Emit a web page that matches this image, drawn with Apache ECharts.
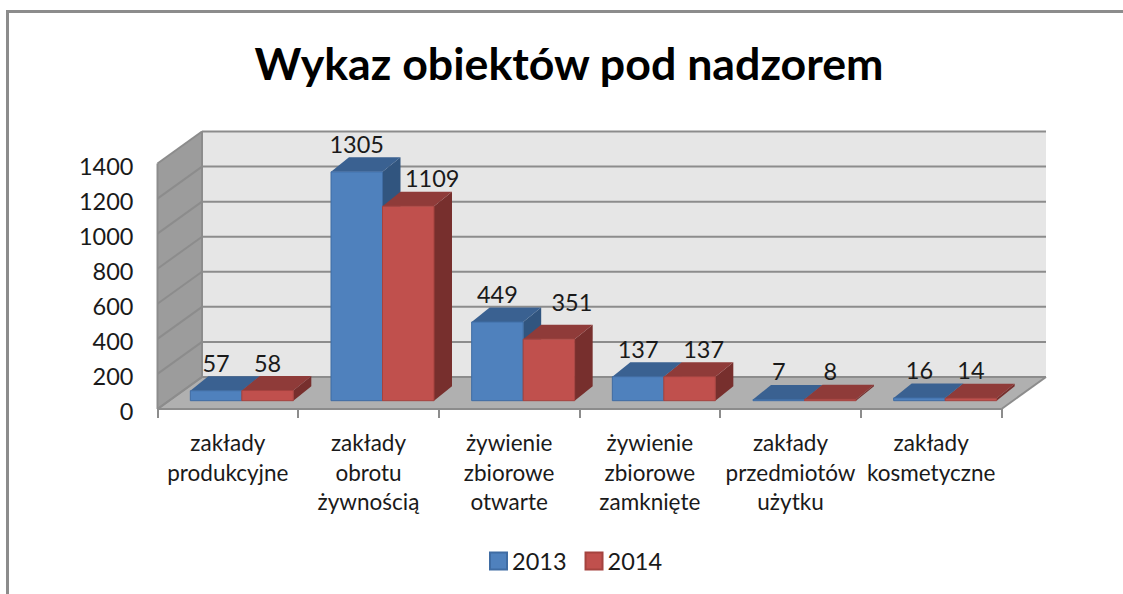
<!DOCTYPE html>
<html><head><meta charset="utf-8">
<style>html,body{margin:0;padding:0;background:#fff}#c{width:1123px;height:594px}</style>
<script src="https://cdn.jsdelivr.net/npm/echarts@6/dist/echarts.min.js"></script>
</head><body><div id="c"></div>
<script>
const categories = ['zakłady\nprodukcyjne','zakłady\nobrotu\nżywnością','żywienie\nzbiorowe\notwarte','żywienie\nzbiorowe\nzamknięte','zakłady\nprzedmiotów\nużytku','zakłady\nkosmetyczne'];
const values2013 = [57,1305,449,137,7,16];
const values2014 = [58,1109,351,137,8,14];
const tickValues = [0,200,400,600,800,1000,1200,1400];
const FONT = 'Lato';
const WALL = {dx:44.5, dy:-32};
const BAR = {halfGapDx:14, baseDy:-8.3, width:51.5, dx:18, dy:-14.5};
const LABEL_LIFT = 28;
const nudges = {'2013':{}, '2014':{1:[24,0],2:[23,-9],3:[14,0]}};
const styles = {
 '2013':{front:'#4F81BD',top:'#3A6191',side:'#31557F',edge:'#3F6CA3',sign:-1},
 '2014':{front:'#C0504D',top:'#8F3B39',side:'#772F2D',edge:'#A5433F',sign:0}
};
const GRID = '#8C8C8C';
function poly(points, fill, stroke){
  return {type:'polygon',shape:{points},style:{fill,stroke:stroke||null,lineWidth:stroke?1:0}};
}
function line(x1,y1,x2,y2,w){
  return {type:'line',shape:{x1,y1,x2,y2},style:{stroke:GRID,lineWidth:w||2,fill:null}};
}
function renderWalls(params, api){
  const cs = params.coordSys, p = api.coord([0, api.value(0)]);
  const L = cs.x, R = cs.x+cs.width, y = p[1], dx=WALL.dx, dy=WALL.dy;
  const kids = [];
  if(params.dataIndex===0){
    const T = cs.y, B = cs.y+cs.height;
    kids.push(poly([[L+dx,T+dy],[R+dx,T+dy],[R+dx,B+dy],[L+dx,B+dy]],'#E6E6E6'));
    kids.push(poly([[L,T],[L+dx,T+dy],[L+dx,B+dy],[L,B]],'#9C9C9C'));
    kids.push(poly([[L,B],[L+dx,B+dy],[R+dx,B+dy],[R,B]],'#B0B0B0'));
    kids.push(line(L,T,L,B));
    kids.push(line(L+dx,T+dy,L+dx,B+dy));
    kids.push(line(L,B,R,B));
    kids.push(line(R,B,R+dx,B+dy));
    kids.push(line(L,B,L+dx,B+dy));
  }
  kids.push(line(L,y,L+dx,y+dy));
  kids.push(line(L+dx,y+dy,R+dx,y+dy));
  return {type:'group',children:kids};
}
function barRenderer(name){
  const s = styles[name];
  return function(params, api){
    const i = api.value(0), v = api.value(1);
    const c0 = api.coord([i,0]), c1 = api.coord([i,v]);
    const x0 = c0[0]+BAR.halfGapDx+s.sign*BAR.width, x1 = x0+BAR.width;
    const yb = c0[1]+BAR.baseDy, yt = c1[1]+BAR.baseDy;
    const d = BAR.dx, e = BAR.dy;
    const n = nudges[name][i]||[0,0];
    return {type:'group',children:[
      poly([[x1,yt],[x1+d,yt+e],[x1+d,yb+e],[x1,yb]],s.side),
      poly([[x0,yt],[x0+d,yt+e],[x1+d,yt+e],[x1,yt]],s.top),
      {type:'rect',shape:{x:x0,y:yt,width:BAR.width,height:yb-yt},style:{fill:s.front,stroke:s.edge,lineWidth:1}},
      {type:'text',x:(x0+x1)/2+n[0],y:yt-LABEL_LIFT+n[1],
       style:{text:String(v),font:'23.5px '+FONT,fill:'#1a1a1a',align:'center',verticalAlign:'middle'}}
    ]};
  };
}
const chart = echarts.init(document.getElementById('c'),null,{renderer:'svg'});
chart.setOption({
  animation:false,
  backgroundColor:'#fff',
  title:{text:'Wykaz obiektów pod nadzorem',left:564,top:35,textAlign:'center',
    textStyle:{fontFamily:FONT,fontSize:44.7,fontWeight:'bold',color:'#000'}},
  legend:{left:484,top:544,itemWidth:17,itemHeight:17,itemGap:18,icon:'rect',
    data:['2013','2014'],
    textStyle:{fontFamily:FONT,fontSize:23.5,color:'#1a1a1a'}},
  grid:{left:157.5,top:163.5,width:844,height:245.5},
  xAxis:{type:'category',data:categories,
    axisLine:{show:false},
    axisTick:{show:true,length:9,lineStyle:{color:GRID,width:2}},
    axisLabel:{interval:0,margin:19,fontFamily:FONT,fontSize:22.5,lineHeight:29.5,color:'#1a1a1a'}},
  yAxis:{type:'value',min:0,max:1400,interval:200,
    axisLine:{show:false},axisTick:{show:false},splitLine:{show:false},
    axisLabel:{margin:24,color:'#1a1a1a',
      formatter:v=>'{t|'+v+'}',
      rich:{t:{fontFamily:FONT,fontSize:23.5,color:'#1a1a1a',padding:[4,0,0,0]}}}},
  series:[
    {type:'custom',name:'walls',silent:true,legendHoverLink:false,data:tickValues.map(v=>[v]),
      encode:{y:0},renderItem:renderWalls,z:1,clip:false},
    {type:'custom',name:'2013',itemStyle:{color:styles['2013'].front,borderColor:styles['2013'].edge,borderWidth:2},
      data:values2013.map((v,i)=>[i,v]),encode:{x:0,y:1},renderItem:barRenderer('2013'),z:2,clip:false},
    {type:'custom',name:'2014',itemStyle:{color:styles['2014'].front,borderColor:styles['2014'].edge,borderWidth:2},
      data:values2014.map((v,i)=>[i,v]),encode:{x:0,y:1},renderItem:barRenderer('2014'),z:3,clip:false}
  ],
  graphic:[{type:'rect',silent:true,shape:{x:7.5,y:11.5,width:1300,height:800},style:{fill:null,stroke:'#8C8C8C',lineWidth:3}}]
});
</script></body></html>
